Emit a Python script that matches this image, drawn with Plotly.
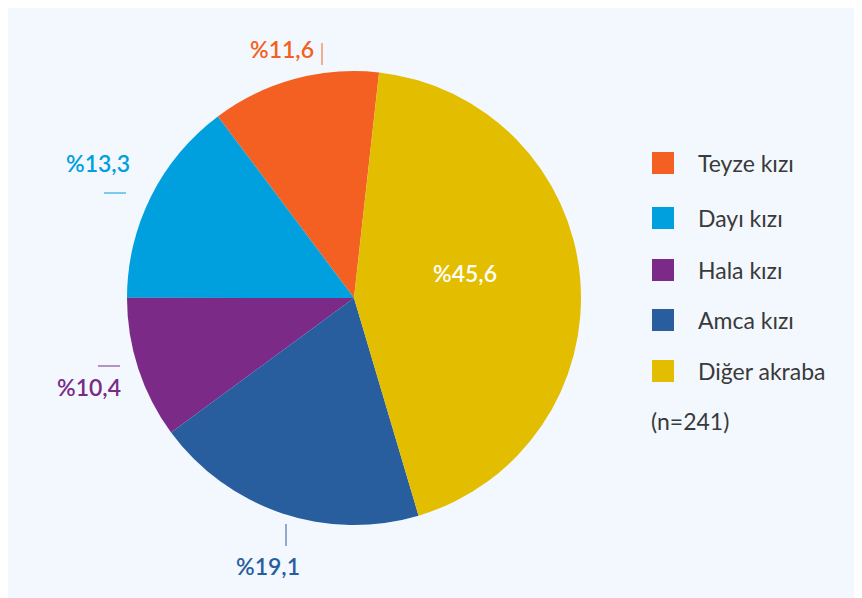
import plotly.graph_objects as go

labels = ["Teyze kızı", "Dayı kızı", "Hala kızı", "Amca kızı", "Diğer akraba"]
# slice shares as drawn in the picture (measured from slice angles)
values = [12.0, 14.75, 10.1, 19.5, 43.65]
# printed data labels
pct_text = ["%11,6", "%13,3", "%10,4", "%19,1", "%45,6"]
colors = ["#F36021", "#009FDD", "#7B2A88", "#285E9E", "#E3BD00"]
note = "(n=241)"

W, H = 862, 598
OFF = 8  # page body margin offset
bg = "#F3F8FE"
font_family = "Lato, 'Open Sans', sans-serif"

def px(x):
    return (x - OFF) / W

def py(y):
    return 1 - (y - OFF) / H

# Teyze/Diğer boundary sits 6.34 deg clockwise of 12 o'clock; slices run counterclockwise from there
end_angle = 6.34
rotation = end_angle - values[0] / sum(values) * 360

fig = go.Figure(go.Pie(
    labels=labels, values=values, sort=False, direction="counterclockwise",
    rotation=rotation, marker=dict(colors=colors, line=dict(width=0)),
    textinfo="none", hoverinfo="label", showlegend=False,
    domain=dict(x=[px(125), px(583)], y=[py(525), py(71)]),
))

# percentage labels (pixel anchor positions) and their short leader ticks
label_pos = [(282, 49), (98, 163), (89, 387), (268, 566), (465, 273)]
ticks = [((322, 43), (322, 65)), ((104, 193), (126, 193)), ((98, 366), (120, 366)),
         ((286, 524), (286, 546)), None]

annotations = []
shapes = []
for i, (t, (x, y)) in enumerate(zip(pct_text, label_pos)):
    col = "#FFFFFF" if i == 4 else colors[i]
    annotations.append(dict(x=px(x), y=py(y), xref="paper", yref="paper", text=t,
                            showarrow=False, xanchor="center", yanchor="middle",
                            font=dict(family=font_family, size=23, color=col, weight=600)))
    if ticks[i]:
        (x0, y0), (x1, y1) = ticks[i]
        shapes.append(dict(type="line", xref="paper", yref="paper",
                           x0=px(x0), y0=py(y0), x1=px(x1), y1=py(y1),
                           line=dict(color=colors[i], width=1)))

# custom legend
leg_y = [163, 218, 270, 320, 371]
for lab, col, y in zip(labels, colors, leg_y):
    shapes.append(dict(type="rect", xref="paper", yref="paper",
                       x0=px(652), x1=px(674), y0=py(y + 11), y1=py(y - 11),
                       fillcolor=col, line=dict(width=0)))
    annotations.append(dict(x=px(696), y=py(y), xref="paper", yref="paper", text=lab,
                            showarrow=False, xanchor="left", yanchor="middle",
                            font=dict(family=font_family, size=23, color="#3A3A3A")))
annotations.append(dict(x=px(649), y=py(421), xref="paper", yref="paper", text=note,
                        showarrow=False, xanchor="left", yanchor="middle",
                        font=dict(family=font_family, size=23, color="#3A3A3A")))

fig.update_layout(
    width=W, height=H, margin=dict(l=0, r=0, t=0, b=0),
    paper_bgcolor=bg, plot_bgcolor=bg,
    annotations=annotations, shapes=shapes,
)

fig.write_html("out.html")
